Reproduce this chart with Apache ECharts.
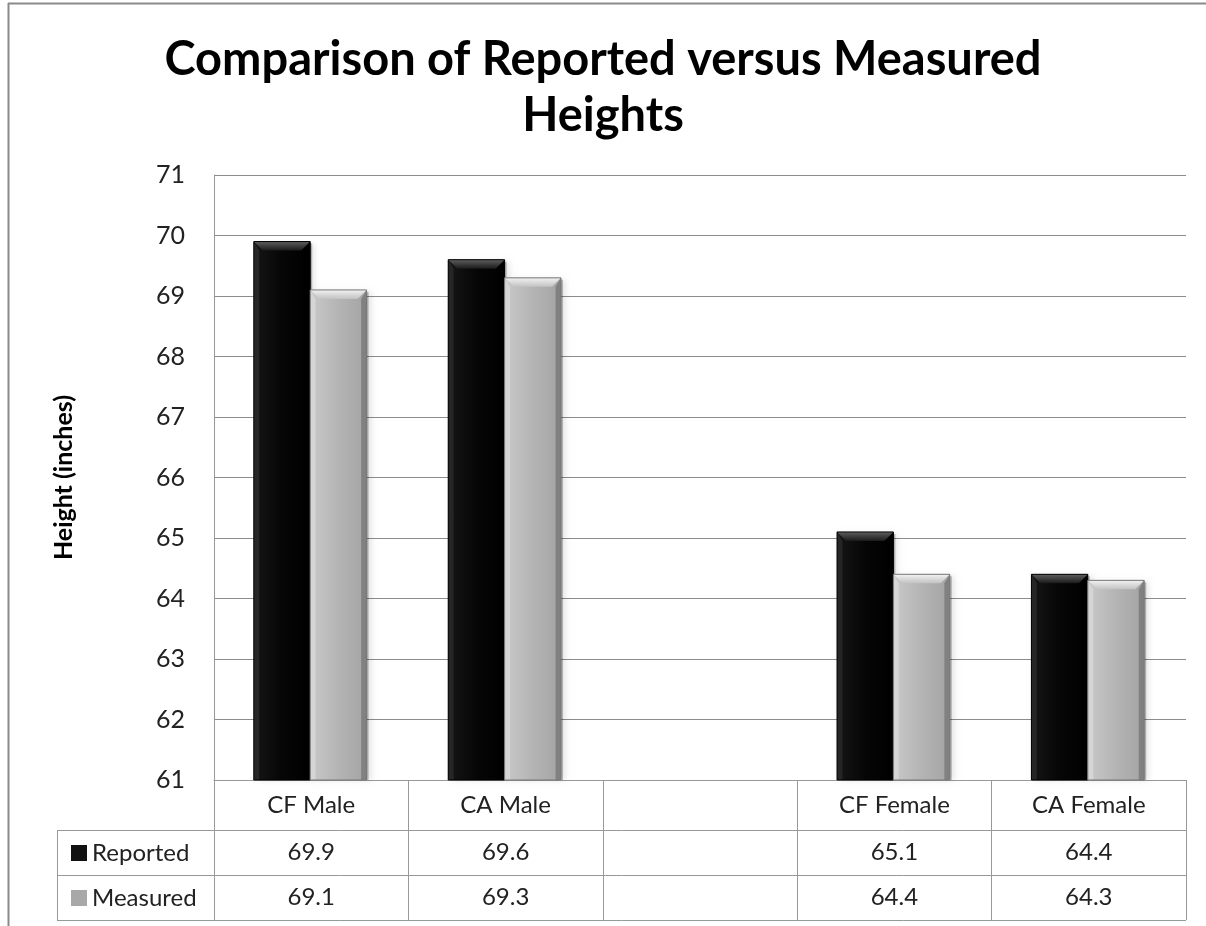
<!DOCTYPE html>
<html>
<head>
<meta charset="utf-8">
<script src="https://cdn.jsdelivr.net/npm/echarts@6/dist/echarts.min.js"></script>
<style>
  html, body { margin: 0; padding: 0; background: #fff; }
  #chart { width: 1206px; height: 926px; }
</style>
</head>
<body>
<div id="chart"></div>
<script>
// Average heights (inches): self-reported vs. measured
const categories = ['CF Male', 'CA Male', '', 'CF Female', 'CA Female'];
const reported = [69.9, 69.6, null, 65.1, 64.4];
const measured = [69.1, 69.3, null, 64.4, 64.3];
const seriesNames = ['Reported', 'Measured'];
const yMin = 61, yMax = 71, yStep = 1;

const FONT = 'Lato, "Open Sans", sans-serif';
const GRID = { left: 214, right: 20, top: 175, bottom: 146 };
const TXT = '#222';

// Beveled bar palettes
const palettes = [
  { face: ['#161616', '#060606', '#000000'], top: ['#5e5e5e', '#1a1a1a'], left: '#2a2a2a', right: '#000000', edge: '#000' },
  { face: ['#c9c9c9', '#b4b4b4', '#a4a4a4'], top: ['#f2f2f2', '#c2c2c2'], left: '#d8d8d8', right: '#7a7a7a', edge: '#777' }
];

function bevelBar(seriesIdx) {
  const pal = palettes[seriesIdx];
  return function (params, api) {
    const v = api.value(1);
    if (v == null || isNaN(v)) return;
    const idx = api.value(0);
    const top = api.coord([idx, v]);
    const base = api.coord([idx, yMin]);
    const band = api.size([1, 0])[0];
    const w = band * 0.29;
    const x0 = seriesIdx === 0 ? top[0] - w - 1 : top[0] - 1;
    const y0 = top[1];
    const y1 = base[1];
    const h = y1 - y0;
    const b = Math.min(9, h / 3);
    return {
      type: 'group',
      children: [
        // soft drop shadow
        { type: 'rect', shape: { x: x0 + 2, y: y0 + 2, width: w, height: h - 2 },
          style: { fill: 'rgba(0,0,0,0.25)', shadowBlur: 6, shadowColor: 'rgba(0,0,0,0.45)', shadowOffsetX: 2, shadowOffsetY: 0 } },
        // face
        { type: 'rect', shape: { x: x0, y: y0, width: w, height: h },
          style: { fill: new echarts.graphic.LinearGradient(0, 0, 1, 0, [
            { offset: 0, color: pal.face[0] }, { offset: 0.5, color: pal.face[1] }, { offset: 1, color: pal.face[2] }]) } },
        // left edge
        { type: 'polygon', shape: { points: [[x0, y0], [x0 + b * 0.6, y0 + b], [x0 + b * 0.6, y1], [x0, y1]] },
          style: { fill: pal.left, opacity: 0.8 } },
        // right edge
        { type: 'polygon', shape: { points: [[x0 + w, y0], [x0 + w - b * 0.6, y0 + b], [x0 + w - b * 0.6, y1], [x0 + w, y1]] },
          style: { fill: pal.right, opacity: 0.85 } },
        // top bevel
        { type: 'polygon', shape: { points: [[x0, y0], [x0 + w, y0], [x0 + w - b, y0 + b], [x0 + b, y0 + b]] },
          style: { fill: new echarts.graphic.LinearGradient(0, 0, 0, 1, [
            { offset: 0, color: pal.top[0] }, { offset: 1, color: pal.top[1] }]) } },
        // outline
        { type: 'rect', shape: { x: x0, y: y0, width: w, height: h },
          style: { fill: 'none', stroke: pal.edge, lineWidth: 1 } }
      ]
    };
  };
}

const chart = echarts.init(document.getElementById('chart'), null, { renderer: 'canvas' });

const rowLines = [830, 875, 920];

chart.setOption({
  backgroundColor: '#fff',
  animation: false,
  title: {
    text: 'Comparison of Reported versus Measured\nHeights',
    left: 'center',
    top: 27,
    textStyle: { fontFamily: FONT, fontWeight: 'bold', fontSize: 47, lineHeight: 56, color: '#000' }
  },
  legend: {
    data: seriesNames,
    orient: 'vertical',
    left: 66,
    top: 834,
    icon: 'rect',
    itemWidth: 16,
    itemHeight: 16,
    itemGap: 17,
    textStyle: { fontFamily: FONT, fontSize: 24, lineHeight: 28, color: TXT }
  },
  grid: GRID,
  xAxis: [
    {
      type: 'category',
      data: categories,
      axisLine: { lineStyle: { color: '#999', width: 1 } },
      axisTick: { show: true, length: 140, lineStyle: { color: '#999', width: 1 } },
      axisLabel: { fontFamily: FONT, fontSize: 24, color: TXT, margin: 13, interval: 0 }
    },
    {
      type: 'category',
      data: categories,
      position: 'bottom',
      axisLine: { show: false },
      axisTick: { show: false },
      axisLabel: { fontFamily: FONT, fontSize: 24, color: TXT, margin: 60, interval: 0,
        formatter: (v, i) => reported[i] == null ? '' : reported[i].toFixed(1) }
    },
    {
      type: 'category',
      data: categories,
      position: 'bottom',
      axisLine: { show: false },
      axisTick: { show: false },
      axisLabel: { fontFamily: FONT, fontSize: 24, color: TXT, margin: 105, interval: 0,
        formatter: (v, i) => measured[i] == null ? '' : measured[i].toFixed(1) }
    }
  ],
  yAxis: {
    type: 'value',
    min: yMin,
    max: yMax,
    interval: yStep,
    name: 'Height (inches)',
    nameLocation: 'middle',
    nameRotate: 90,
    nameGap: 138,
    nameTextStyle: { fontFamily: FONT, fontWeight: 'bold', fontSize: 25, color: '#000' },
    axisLine: { show: true, lineStyle: { color: '#999', width: 1 } },
    axisTick: { show: false },
    axisLabel: { fontFamily: FONT, fontSize: 25, color: TXT, margin: 29 },
    splitLine: { lineStyle: { color: '#8c8c8c', width: 1 } }
  },
  series: [0, 1].map(s => ({
    type: 'custom',
    name: seriesNames[s],
    xAxisIndex: 0,
    yAxisIndex: 0,
    itemStyle: { color: s === 0 ? '#111' : '#a8a8a8' },
    encode: { x: 0, y: 1 },
    data: (s === 0 ? reported : measured).map((v, i) => [i, v]),
    renderItem: bevelBar(s),
    z: 3
  })),
  graphic: [
    // outer frame (top and left edges visible)
    { type: 'line', shape: { x1: 8, y1: 3.5, x2: 1206, y2: 3.5 }, style: { stroke: '#8a8a8a', lineWidth: 2 }, z: 0 },
    { type: 'line', shape: { x1: 8.5, y1: 3, x2: 8.5, y2: 926 }, style: { stroke: '#8a8a8a', lineWidth: 2 }, z: 0 },
    // data table rules
    ...rowLines.map(y => ({ type: 'line', shape: { x1: 57, y1: y + 0.5, x2: 1186, y2: y + 0.5 },
      style: { stroke: '#999', lineWidth: 1 }, z: 1 })),
    { type: 'line', shape: { x1: 57.5, y1: 830, x2: 57.5, y2: 920 }, style: { stroke: '#999', lineWidth: 1 }, z: 1 }
  ]
});
</script>
</body>
</html>
